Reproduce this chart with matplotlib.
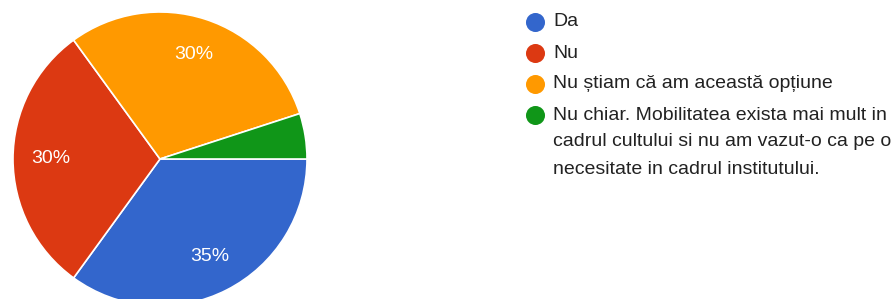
import matplotlib.pyplot as plt

labels = ["Da", "Nu", "Nu știam că am această opțiune",
          "Nu chiar. Mobilitatea exista mai mult in\ncadrul cultului si nu am vazut-o ca pe o\nnecesitate in cadrul institutului."]
values = [7, 6, 6, 1]
colors = ["#3366CC", "#DC3912", "#FF9900", "#109618"]

plt.rcParams['font.family'] = ['Liberation Sans', 'DejaVu Sans']

W, H = 896, 299
fig = plt.figure(figsize=(W / 100, H / 100), dpi=100)

# pie axes placed in pixel units (center ~ (160,159), radius ~147)
cx, cy, r = 160, 159, 147
ax = fig.add_axes([(cx - r) / W, (H - cy - r) / H, 2 * r / W, 2 * r / H])


def pct(p):
    return f"{p:.0f}%" if p >= 10 else ""


wedges, texts, autotexts = ax.pie(values, colors=colors, startangle=0, counterclock=False,
                                  autopct=pct, pctdistance=0.745, radius=1,
                                  wedgeprops=dict(edgecolor="white", linewidth=1.2),
                                  textprops=dict(color="white", fontsize=14))
ax.set_xlim(-1, 1)
ax.set_ylim(-1, 1)
ax.set_aspect('equal')

# legend drawn by hand so the dot sits on the first line of a wrapped label
lax = fig.add_axes([0, 0, 1, 1])
lax.set_xlim(0, W)
lax.set_ylim(H, 0)
lax.axis('off')
y = 22
for lab, col in zip(labels, colors):
    lax.plot(534.5, y, 'o', color=col, markersize=13.7, markeredgewidth=0)
    ly = y
    for line in lab.split("\n"):
        lax.text(553, ly, line, va='center', ha='left', fontsize=14, color="#222222")
        ly += 27
    y += 31 + (ly - y - 27)

fig.savefig("out.png", dpi=100)
